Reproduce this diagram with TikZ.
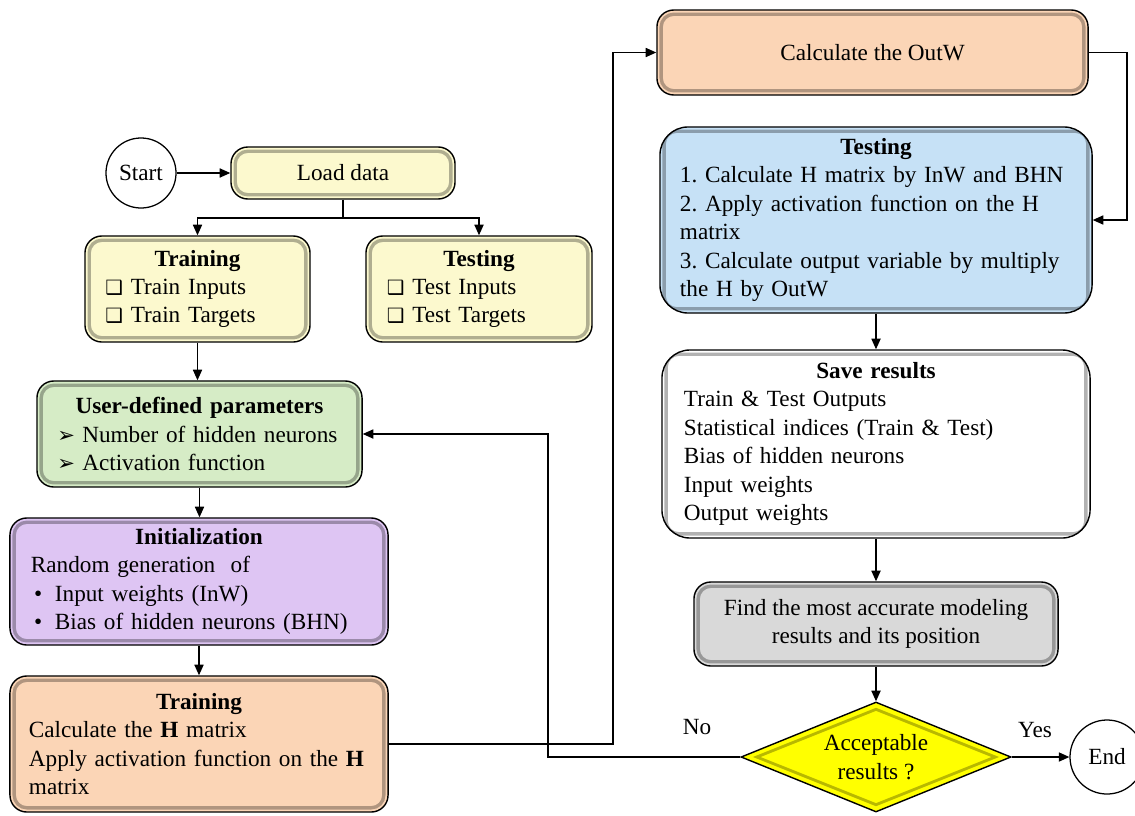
\documentclass[tikz,border=0pt]{standalone}
\usepackage{fontspec}
\setmainfont{Liberation Serif}
\newfontfamily\symf{DejaVu Sans}
\usetikzlibrary{shapes.geometric,arrows.meta,calc}
\definecolor{cyel}{RGB}{252,249,206}
\definecolor{cgreen}{RGB}{214,236,198}
\definecolor{cpurple}{RGB}{222,197,243}
\definecolor{cpeach}{RGB}{251,213,182}
\definecolor{cblue}{RGB}{198,225,246}
\definecolor{cwhite}{RGB}{255,255,255}
\definecolor{cgray}{RGB}{217,217,217}
\definecolor{cdia}{RGB}{255,255,0}
\frenchspacing
\newcommand\ttl[1]{\hfill\textbf{#1}\hfill\null}
\newcommand\chk{{\symf\bfseries\fontsize{14}{14}\selectfont ❑}\ }
\newcommand\arw{\makebox[0.62cm][l]{\symf\fontsize{15}{15}\selectfont ➢}}
\newcommand\bul{\makebox[0.6cm][l]{\hspace{0.08cm}•}}
\begin{document}
\begin{tikzpicture}[x=0.025cm,y=-0.025cm,
  font=\fontsize{16.5}{20.2}\selectfont,
  fbox/.style={draw=black, line width=1pt, rounded corners=12pt, fill=#1, inner sep=0pt,
    path picture={\draw[line width=2.4pt, draw=#1!70!black, rounded corners=9pt]
      ($(path picture bounding box.north west)+(3pt,-3pt)$) rectangle
      ($(path picture bounding box.south east)+(-3pt,3pt)$);}},
  circ/.style={circle, draw=black, line width=0.9pt, fill=white, inner sep=0pt},
  dia/.style={diamond, draw=black, line width=1pt, fill=cdia, inner sep=0pt, aspect=2.45,
    path picture={\draw[line width=2pt, draw=cdia!72!black]
      ($(path picture bounding box.north)+(0,-5pt)$) --
      ($(path picture bounding box.east)+(-11pt,0)$) --
      ($(path picture bounding box.south)+(0,5pt)$) --
      ($(path picture bounding box.west)+(11pt,0)$) -- cycle;}},
  arr/.style={-{Triangle[length=7.5pt,width=6.5pt]}, line width=0.9pt},
  ln/.style={line width=0.9pt}]
\useasboundingbox (0,0) rectangle (1135,815);

% nodes
\node[circ, minimum size=1.75cm] (start) at (141,173) {Start};
\node[fbox=cyel, minimum width=5.6cm, minimum height=1.3cm] (load) at (343,173) {Load data};
\node[fbox=cyel, minimum width=5.625cm, minimum height=2.65cm, text width=4.6cm, align=left] (trainA) at (197.5,289)
  {\ttl{Training}\\\chk Train Inputs\\\chk Train Targets};
\node[fbox=cyel, minimum width=5.65cm, minimum height=2.65cm, text width=4.6cm, align=left] (testA) at (479,289)
  {\ttl{Testing}\\\chk Test Inputs\\\chk Test Targets};
\node[fbox=cgreen, minimum width=8.125cm, minimum height=2.65cm, text width=7.1cm, align=left] (user) at (199.5,434)
  {\ttl{User-defined parameters}\\\arw Number of hidden neurons\\\arw Activation function};
\node[fbox=cpurple, minimum width=9.45cm, minimum height=3.175cm, text width=8.4cm, align=left] (init) at (199,581.5)
  {\ttl{Initialization}\\Random generation\ \ of\\\bul Input weights (InW)\\\bul Bias of hidden neurons (BHN)};
\node[fbox=cpeach, minimum width=9.45cm, minimum height=3.4cm, text width=8.5cm, align=left] (trainB) at (199,744)
  {\ttl{Training}\\Calculate the \textbf{H} matrix\\Apply activation function on the \textbf{H}\\matrix};
\node[fbox=cpeach, minimum width=10.775cm, minimum height=2.125cm] (outw) at (872.5,52.5) {Calculate the OutW};
\node[fbox=cblue, rounded corners=20pt, minimum width=10.8cm, minimum height=4.65cm, text width=9.8cm, align=left] (testB) at (876,220)
  {\ttl{Testing}\\1. Calculate H matrix by InW and BHN\\2. Apply activation function on the H\\matrix\\3. Calculate output variable by multiply\\the H by OutW};
\node[fbox=cwhite, rounded corners=20pt, minimum width=10.7cm, minimum height=4.7cm, text width=9.6cm, align=left] (save) at (876,444)
  {\ttl{Save results}\\Train \& Test Outputs\\Statistical indices (Train \& Test)\\Bias of hidden neurons\\Input weights\\Output weights};
\node[fbox=cgray, minimum width=9.1cm, minimum height=2.1cm, align=center] (find) at (876,624)
  {Find the most accurate modeling\\results and its position};
\node[dia, minimum width=6.75cm, minimum height=2.75cm, align=center] (dec) at (876,757) {Acceptable\\results ?};
\node[circ, minimum size=1.85cm] (end) at (1107,757) {End};
\node (nolbl) at (697,727) {No};
\node (yeslbl) at (1035,730) {Yes};

% helper coordinates
\coordinate (split) at (343,218);
\coordinate (c1) at (613,0);
\coordinate (c2) at (1127,0);
\coordinate (c3) at (548,0);

% connectors
\draw[arr] (start) -- (load);
\draw[ln] (load.south) -- (split);
\draw[arr] (split) -| (trainA.north);
\draw[arr] (split) -| (testA.north);
\draw[arr] (trainA.south) -- (trainA.south |- user.north);
\draw[arr] (user.south) -- (user.south |- init.north);
\draw[arr] (init.south) -- (init.south |- trainB.north);
\draw[arr] (trainB.east) -- (trainB.east -| c1) |- (outw.west);
\draw[arr] (outw.east) -- (outw.east -| c2) |- (testB.east);
\draw[arr] (testB.south) -- (testB.south |- save.north);
\draw[arr] (save.south) -- (save.south |- find.north);
\draw[arr] (find.south) -- (dec.north);
\draw[arr] (dec.east) -- (end.west);
\draw[arr] (dec.west) -- (dec.west -| c3) |- (user.east);
\end{tikzpicture}
\end{document}
